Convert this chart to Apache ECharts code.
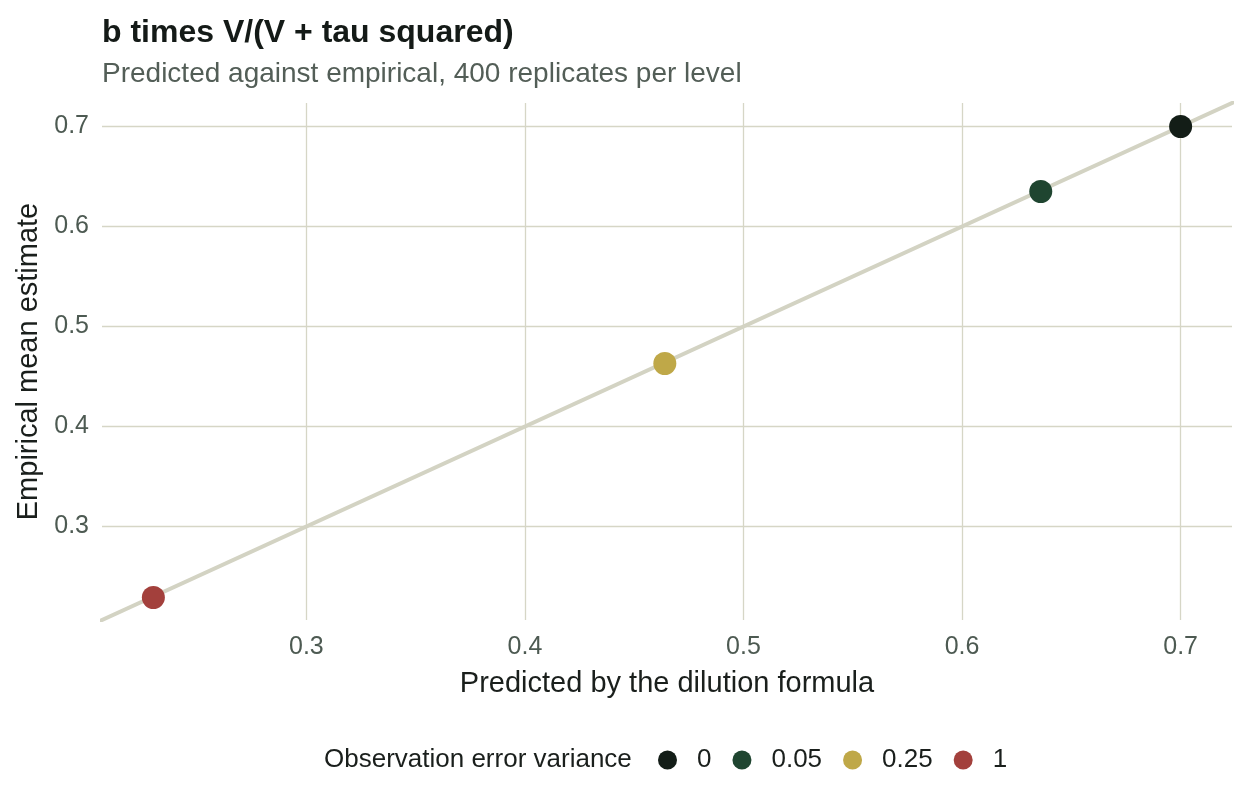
<!DOCTYPE html>
<html><head><meta charset="utf-8">
<script src="https://cdn.jsdelivr.net/npm/echarts@6/dist/echarts.min.js"></script>
<style>html,body{margin:0;padding:0;background:#fff}#c{width:1248px;height:806px}</style>
</head><body><div id="c"></div>
<script>
const levels = ['0', '0.05', '0.25', '1'];
const predicted = [0.700, 0.636, 0.464, 0.230];
const empirical = [0.700, 0.635, 0.463, 0.229];
const colors = ['#131d17', '#1f4530', '#bfa848', '#a3403c'];
const tickValues = [0.3, 0.4, 0.5, 0.6, 0.7];
const identityLine = [[0.1, 0.1], [0.8, 0.8]];

const FONT = '"Liberation Sans", Arial, Helvetica, sans-serif';
const chart = echarts.init(document.getElementById('c'));
const axisCommon = (name) => ({
  type: 'value', min: 0.2065, max: 0.7235,
  name: name, nameLocation: 'middle',
  nameTextStyle: {fontFamily: FONT, fontSize: 29, color: '#1a1f1c'},
  axisLine: {show: false},
  axisTick: {show: false, customValues: tickValues},
  axisLabel: {customValues: tickValues, fontFamily: FONT, fontSize: 25, color: '#4d5a52',
    formatter: v => v.toFixed(1)},
  splitLine: {show: true, lineStyle: {color: '#d6d6c6', width: 1.3}}
});
const series = [{
  type: 'line', data: identityLine, showSymbol: false, silent: true, clip: true,
  lineStyle: {color: '#d3d3c3', width: 4}, z: 1, legendHoverLink: false
}];
levels.forEach((lv, i) => {
  series.push({
    type: 'scatter', name: lv, data: [[predicted[i], empirical[i]]],
    symbolSize: 23, itemStyle: {color: colors[i], opacity: 1}, z: 3
  });
});
const xa = axisCommon('Predicted by the dilution formula');
xa.nameGap = 49; xa.axisLabel.margin = 15;
const ya = axisCommon('Empirical mean estimate');
ya.nameGap = 57; ya.axisLabel.margin = 13;
chart.setOption({
  animation: false,
  title: [{
    text: 'b times V/(V + tau squared)', left: 102, top: 17, padding: 0,
    textStyle: {fontFamily: FONT, fontSize: 32, fontWeight: 'bold', color: '#141a17'}
  }, {
    text: 'Predicted against empirical, 400 replicates per level', left: 102, top: 60, padding: 0,
    textStyle: {fontFamily: FONT, fontSize: 28, fontWeight: 'normal', color: '#535e57'}
  }, {
    text: 'Observation error variance', left: 324, top: 747, padding: 0,
    textStyle: {fontFamily: FONT, fontSize: 26, fontWeight: 'normal', color: '#1a1f1c'}
  }],
  grid: {left: 102, right: 16, top: 103, bottom: 186, containLabel: false},
  xAxis: xa, yAxis: ya,
  legend: {
    data: levels, left: 658, top: 747, padding: 0, icon: 'circle', itemWidth: 19, itemHeight: 19,
    itemGap: 21, selectedMode: false,
    textStyle: {fontFamily: FONT, fontSize: 26, color: '#1a1f1c', padding: [0, 0, 0, 15]}
  },
  series: series
});
</script></body></html>
